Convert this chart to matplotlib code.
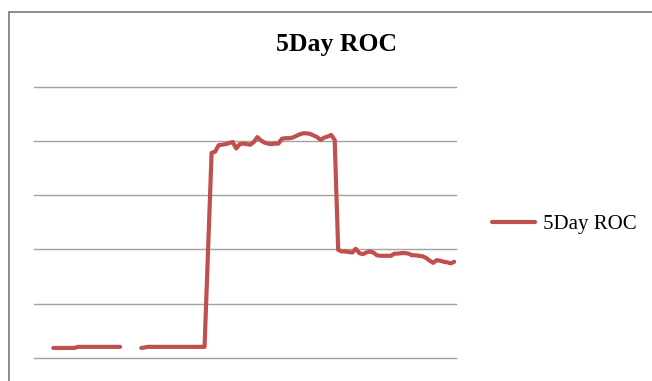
import numpy as np
import matplotlib
matplotlib.use('Agg')
import matplotlib.pyplot as plt
from matplotlib.lines import Line2D

# [1. data]
title_text = "5Day ROC"
series_name = "5Day ROC"

# one value per trading day, None = blank cell
roc_values = [
    None, None, None, None, None,
    -18.2, -18.2, -18.2, -18.2, -18.2, -18.2, -18.2,
    -18.0, -18.0, -18.0, -18.0, -18.0, -18.0, -18.0, -18.0, -18.0, -18.0, -18.0, -18.0, -18.0,
    None, None, None, None, None,
    -18.2, -18.1, -18.0, -18.0, -18.0, -18.0, -18.0, -18.0, -18.0, -18.0,
    -18.0, -18.0, -18.0, -18.0, -18.0, -18.0, -18.0, -18.0, -18.0,
    -0.1,
    17.8, 18.0, 19.2, 19.3, 19.4, 19.6, 19.8, 18.6, 19.4, 19.5,
    19.4, 19.3, 19.8, 20.7, 20.1, 19.7, 19.5, 19.4, 19.5, 19.5,
    20.4, 20.5, 20.5, 20.6, 20.9, 21.2, 21.4, 21.4, 21.3, 21.0,
    20.7, 20.2, 20.6, 20.8, 21.1, 20.2,
    -0.1, -0.4, -0.4, -0.5, -0.6, 0.1, -0.7, -0.9, -0.6, -0.4,
    -0.6, -1.1, -1.2, -1.2, -1.2, -1.2, -0.8, -0.8, -0.7, -0.7,
    -0.8, -1.1, -1.1, -1.2, -1.3, -1.6, -2.1, -2.5, -2.0, -2.1,
    -2.3, -2.4, -2.6, -2.3,
]
grid_values = [-20, -10, 0, 10, 20, 30]

LINE_COLOR = '#C0504D'
GRID_COLOR = '#a3a3a3'

# [2. figure]
W, H = 652, 381
fig = plt.figure(figsize=(W / 100, H / 100), dpi=100)
fig.patch.set_facecolor('white')

# chart frame (left and top edges visible)
fig.add_artist(Line2D([8.5 / W, 8.5 / W], [0, 1 - 12 / H], color='#8c8c8c', lw=1.4))
fig.add_artist(Line2D([8.5 / W, 1], [1 - 12 / H, 1 - 12 / H], color='#8c8c8c', lw=1.4))

x0, x1 = 34, 456
y_top, y_bot = 86.7, 357.7
ax = fig.add_axes([x0 / W, 1 - y_bot / H, (x1 - x0) / W, (y_bot - y_top) / H])

y = np.array([np.nan if v is None else v for v in roc_values], dtype=float)
x = np.arange(len(y))
ax.plot(x, y, color=LINE_COLOR, lw=3.0, solid_capstyle='round',
        solid_joinstyle='round', label=series_name, zorder=3)

ax.set_xlim(-0.5, len(y) - 0.5)
ax.set_ylim(grid_values[0], grid_values[-1])
ax.set_yticks(grid_values)
ax.yaxis.grid(True, color=GRID_COLOR, lw=1.0)
for gl in ax.get_ygridlines():
    gl.set_clip_on(False)
ax.tick_params(left=False, bottom=False, labelleft=False, labelbottom=False)
ax.set_xticks([])
for s in ax.spines.values():
    s.set_visible(False)

# [3. title and legend]
fig.text(336 / W, 1 - 51 / H, title_text, ha='center', va='baseline',
         fontsize=18.5, fontweight='bold', family='Liberation Serif')

leg = ax.legend(loc='center left', bbox_to_anchor=(492 / W, 1 - 224 / H),
                bbox_transform=fig.transFigure, frameon=False,
                prop={'family': 'Liberation Serif', 'size': 15},
                handlelength=2.05, handletextpad=0.42, borderpad=0, borderaxespad=0)

fig.savefig('out.png', dpi=100, facecolor='white')
